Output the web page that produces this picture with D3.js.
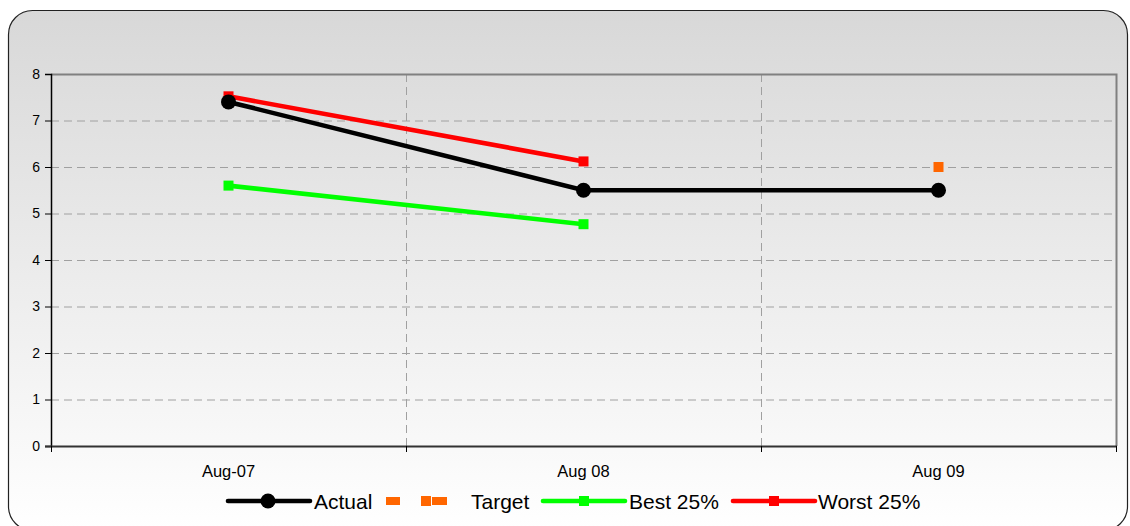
<!DOCTYPE html>
<html>
<head>
<meta charset="utf-8">
<script src="https://cdn.jsdelivr.net/npm/d3@7"></script>
<style>
  body { margin: 0; background: #fff; }
  svg { display: block; font-family: Arial, "Liberation Sans", sans-serif; }
</style>
</head>
<body>
<div id="chart"></div>
<script>
const categories = ['Aug-07', 'Aug 08', 'Aug 09'];
const actual = [7.4, 5.5, 5.5];
const target = [null, null, 6];
const best25 = [5.6, 4.77, null];
const worst25 = [7.52, 6.12, null];
const yTicks = [0, 1, 2, 3, 4, 5, 6, 7, 8];

const width = 1130, height = 526;
const margin = { top: 74, right: 14, bottom: 80, left: 51 };

const svg = d3.select('#chart').append('svg')
  .attr('width', width)
  .attr('height', height);

const defs = svg.append('defs');
const grad = defs.append('linearGradient')
  .attr('id', 'bg')
  .attr('x1', 0).attr('y1', 0).attr('x2', 0).attr('y2', 1);
grad.append('stop').attr('offset', '0%').attr('stop-color', '#d8d8d8');
grad.append('stop').attr('offset', '100%').attr('stop-color', '#ffffff');

svg.append('rect')
  .attr('x', 8.5).attr('y', 10.5)
  .attr('width', 1119).attr('height', 520)
  .attr('rx', 24).attr('ry', 24)
  .style('fill', 'url(#bg)')
  .style('stroke', '#222')
  .style('stroke-width', 1.2);

const x = d3.scaleBand()
  .domain(categories)
  .range([margin.left, width - margin.right]);

const y = d3.scaleLinear()
  .domain([0, 8])
  .range([height - margin.bottom, margin.top]);

const g = svg.append('g');

// horizontal gridlines
g.selectAll('.hgrid')
  .data(yTicks.filter(d => d > 0 && d < 8))
  .enter()
  .append('line')
  .attr('x1', margin.left).attr('x2', width - margin.right)
  .attr('y1', d => y(d) + 0.5).attr('y2', d => y(d) + 0.5)
  .style('stroke', '#a0a0a0')
  .style('stroke-dasharray', '8,5');

// vertical gridlines at category boundaries
g.selectAll('.vgrid')
  .data(categories.slice(1))
  .enter()
  .append('line')
  .attr('x1', d => x(d) + 0.5).attr('x2', d => x(d) + 0.5)
  .attr('y1', margin.top).attr('y2', height - margin.bottom)
  .style('stroke', '#a0a0a0')
  .style('stroke-dasharray', '8,5');

// plot frame (top/right)
g.append('path')
  .attr('d', `M${margin.left},${margin.top + 0.5}H${width - margin.right + 0.5}V${height - margin.bottom}`)
  .style('fill', 'none')
  .style('stroke', '#808080')
  .style('stroke-width', 2);

// y axis
const yAxis = svg.append('g')
  .attr('transform', `translate(${margin.left},0)`)
  .call(d3.axisLeft(y).tickValues(yTicks).tickSize(6).tickPadding(5));
yAxis.select('.domain').style('stroke', '#000').style('stroke-width', 1.5);
yAxis.selectAll('.tick line').style('stroke', '#000');
yAxis.selectAll('.tick text').style('font-size', '14px').style('fill', '#000');

// x axis
const xEdges = categories.map(c => x(c)).concat([x.range()[1]]);
const xAxisG = svg.append('g');
xAxisG.append('line')
  .attr('x1', margin.left - 6).attr('x2', width - margin.right + 1)
  .attr('y1', y(0) + 0.5).attr('y2', y(0) + 0.5)
  .style('stroke', '#333')
  .style('stroke-width', 2);
xAxisG.selectAll('.xtick')
  .data(xEdges)
  .enter()
  .append('line')
  .attr('x1', d => d + 0.5).attr('x2', d => d + 0.5)
  .attr('y1', y(0)).attr('y2', y(0) + 6)
  .style('stroke', '#000');
xAxisG.selectAll('.xlabel')
  .data(categories)
  .enter()
  .append('text')
  .attr('x', d => x(d) + x.bandwidth() / 2)
  .attr('y', y(0) + 31)
  .attr('text-anchor', 'middle')
  .style('font-size', '16.5px')
  .text(d => d);

const cx = (d, i) => x(categories[i]) + x.bandwidth() / 2;
const line = d3.line()
  .defined(d => d != null)
  .x((d, i) => cx(d, i))
  .y(d => y(d));

function drawSeries(data, color, marker, size) {
  svg.append('path')
    .datum(data)
    .attr('d', line)
    .style('fill', 'none')
    .style('stroke', color)
    .style('stroke-width', 4.6);
  const pts = data.map((v, i) => ({ v, i })).filter(d => d.v != null);
  if (marker === 'circle') {
    svg.selectAll(null).data(pts).enter().append('circle')
      .attr('cx', d => cx(d.v, d.i)).attr('cy', d => y(d.v))
      .attr('r', size)
      .style('fill', color);
  } else {
    svg.selectAll(null).data(pts).enter().append('rect')
      .attr('x', d => cx(d.v, d.i) - size).attr('y', d => y(d.v) - size)
      .attr('width', size * 2).attr('height', size * 2)
      .style('fill', color);
  }
}

drawSeries(worst25, '#ff0000', 'square', 5);
drawSeries(actual, '#000000', 'circle', 7.5);
drawSeries(best25, '#00ff00', 'square', 5);
drawSeries(target, '#ff6600', 'square', 5);

// legend
const legend = svg.append('g').attr('transform', 'translate(0,501)');
const items = [
  { name: 'Actual', color: '#000', marker: 'circle', x0: 228, tx: 314 },
  { name: 'Target', color: '#ff6600', marker: 'target', x0: 386, tx: 471 },
  { name: 'Best 25%', color: '#00ff00', marker: 'square', x0: 543, tx: 629 },
  { name: 'Worst 25%', color: '#ff0000', marker: 'square', x0: 733, tx: 818 }
];
items.forEach(it => {
  if (it.marker === 'target') {
    [[386, 400], [432, 447]].forEach(s => {
      legend.append('rect')
        .attr('x', s[0]).attr('y', -4).attr('width', s[1] - s[0]).attr('height', 8)
        .style('fill', it.color);
    });
    legend.append('rect')
      .attr('x', 421).attr('y', -5).attr('width', 10).attr('height', 10)
      .style('fill', it.color);
  } else {
    legend.append('line')
      .attr('x1', it.x0).attr('x2', it.x0 + 82)
      .attr('y1', 0).attr('y2', 0)
      .style('stroke', it.color)
      .style('stroke-width', 4.6)
      .style('stroke-linecap', 'round');
    if (it.marker === 'circle') {
      legend.append('circle').attr('cx', it.x0 + 40).attr('cy', 0).attr('r', 7.5).style('fill', it.color);
    } else {
      legend.append('rect').attr('x', it.x0 + 36).attr('y', -5).attr('width', 10).attr('height', 10).style('fill', it.color);
    }
  }
  legend.append('text')
    .attr('x', it.tx).attr('y', 8)
    .style('font-size', '21px')
    .text(it.name);
});
</script>
</body>
</html>
